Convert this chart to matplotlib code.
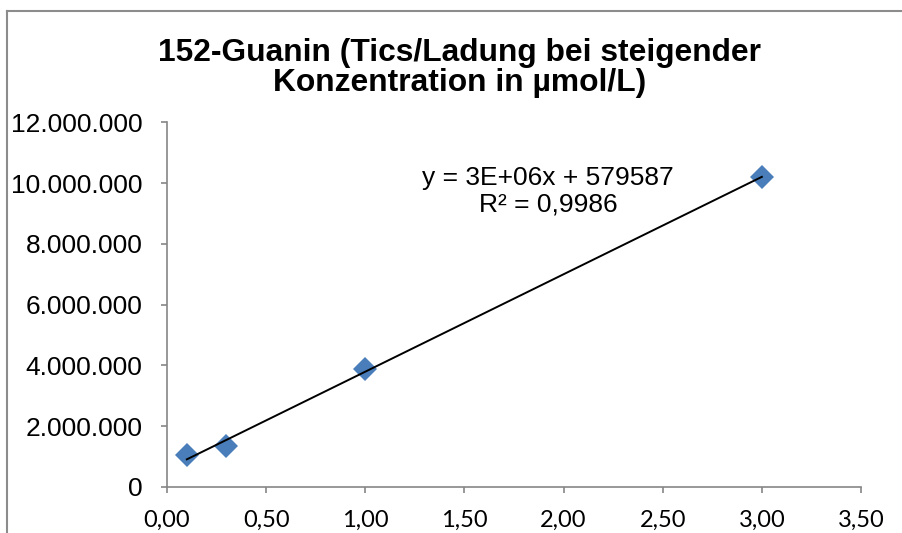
import matplotlib
matplotlib.use("Agg")
import matplotlib.pyplot as plt
import matplotlib.ticker as ticker
from matplotlib.lines import Line2D

# Konzentration in umol/L and Tics/Ladung
konz = [0.1, 0.3, 1.0, 3.0]
tics = [1045000, 1340000, 3880000, 10210000]

x_ticks = [0.0, 0.5, 1.0, 1.5, 2.0, 2.5, 3.0, 3.5]
y_ticks = [0, 2000000, 4000000, 6000000, 8000000, 10000000, 12000000]

titel = "152-Guanin (Tics/Ladung bei steigender\nKonzentration in µmol/L)"

# linear trendline (Excel output)
trend_slope = 3210000
trend_intercept = 579587
trend_r2 = "0,9986"
trend_label = f"y = 3E+06x + {trend_intercept}\nR² = {trend_r2}"

fig = plt.figure(figsize=(9.02, 5.33), dpi=100)
# chart area border (only left and top edge inside the image)
fl, ft = 7 / 902, 1 - 11 / 533
fig.add_artist(Line2D([fl, fl], [0, ft], transform=fig.transFigure, color="#8c8c8c", linewidth=1.5))
fig.add_artist(Line2D([fl, 1], [ft, ft], transform=fig.transFigure, color="#8c8c8c", linewidth=1.5))

ax = fig.add_axes([167 / 902, 1 - 486.7 / 533, (861 - 167) / 902, (486.7 - 122.5) / 533])

ax.plot(konz, tics, linestyle="none", marker="D", markersize=12.5, color="#4a7ebb",
        markeredgewidth=0, zorder=2)
x0, x1 = konz[0], konz[-1]
ax.plot([x0, x1], [trend_slope * x0 + trend_intercept, trend_slope * x1 + trend_intercept],
        color="black", linewidth=1.4, zorder=3)

ax.set_xlim(0, 3.5)
ax.set_ylim(0, 12000000)
ax.set_xticks(x_ticks)
ax.set_yticks(y_ticks)
ax.xaxis.set_major_formatter(ticker.FuncFormatter(lambda v, p: f"{v:.2f}".replace(".", ",")))
ax.yaxis.set_major_formatter(ticker.FuncFormatter(lambda v, p: f"{int(v):,}".replace(",", ".")))

for s in ["top", "right"]:
    ax.spines[s].set_visible(False)
for s in ["left", "bottom"]:
    ax.spines[s].set_color("#868686")
    ax.spines[s].set_linewidth(1.2)
ax.tick_params(axis="both", direction="out", length=4.5, width=1.2, color="#868686")
ax.tick_params(axis="y", pad=13)
ax.tick_params(axis="x", pad=12)
for lab in ax.get_yticklabels():
    lab.set_fontfamily("Liberation Sans")
    lab.set_fontsize(19)
for lab in ax.get_xticklabels():
    lab.set_fontfamily("Lato")
    lab.set_fontsize(17)

fig.text(460 / 902, 1 - 68 / 533, titel, ha="center", va="center", fontsize=22.9,
         fontweight="bold", fontfamily="Liberation Sans", linespacing=1.0)

fig.text(548 / 902, 1 - 191 / 533, trend_label, ha="center", va="center", fontsize=19,
         fontfamily="Liberation Sans", linespacing=1.15)

fig.savefig("out.png", dpi=100)
